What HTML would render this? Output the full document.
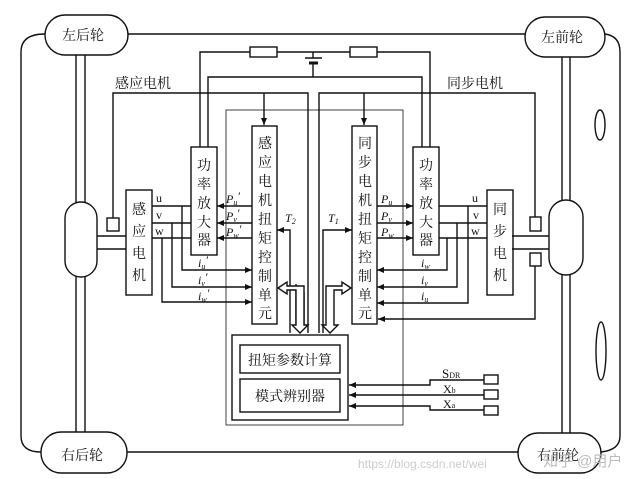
<!DOCTYPE html>
<html><head><meta charset="utf-8"><style>
html,body{margin:0;padding:0;background:#fff;}
svg{display:block;}
text{font-family:"Liberation Serif","Noto Serif CJK SC","Noto Sans CJK SC",serif;fill:#111;}
</style></head><body>
<svg width="640" height="479" viewBox="0 0 640 479" xmlns="http://www.w3.org/2000/svg">
<defs>
<marker id="a" markerWidth="8" markerHeight="8" refX="7" refY="4" orient="auto" markerUnits="userSpaceOnUse"><path d="M0,1 L7,4 L0,7 Z" fill="#111"/></marker>
</defs>
<g stroke="#111" stroke-width="1.4" fill="none">
<!-- outer frame -->
<path d="M128,34 H525"/>
<path d="M45,34 Q21,34 21,52 V436 Q21,452 41,452"/>
<path d="M127,452 H518"/>
<path d="M605,34 Q620,36 620,52 V436 Q620,450 601,452"/>
<!-- axles -->
<line x1="76" y1="55" x2="76" y2="432"/><line x1="85" y1="55" x2="85" y2="432"/>
<line x1="562" y1="57" x2="562" y2="433"/><line x1="570" y1="57" x2="570" y2="433"/>
<rect x="65" y="202" width="32" height="75" rx="16" fill="#fff"/>
<rect x="549" y="200" width="34" height="75" rx="17" fill="#fff"/>
<ellipse cx="600" cy="125" rx="5" ry="15"/>
<ellipse cx="601" cy="351" rx="5" ry="29"/>
<!-- wheels -->
<rect x="45" y="15" width="83" height="40" rx="20" fill="#fff"/>
<rect x="525" y="17" width="80" height="40" rx="20" fill="#fff"/>
<rect x="41" y="432" width="86" height="41" rx="20" fill="#fff"/>
<rect x="518" y="433" width="83" height="40" rx="20" fill="#fff"/>
<!-- shafts -->
<line x1="97" y1="236" x2="126" y2="236"/><line x1="97" y1="249" x2="126" y2="249"/>
<line x1="512" y1="236" x2="549" y2="236"/><line x1="512" y1="249" x2="549" y2="249"/>
<!-- motors -->
<rect x="126" y="190" width="26" height="105"/>
<rect x="487" y="190" width="26" height="105"/>
<rect x="107" y="218" width="12" height="13"/>
<rect x="530" y="217" width="11" height="14"/>
<rect x="530" y="253" width="11" height="13"/>
<!-- sensor lines -->
<path d="M113,218 V93 H308 V333"/>
<path d="M535,217 V93 H319 V333"/>
<path d="M535,266 V319 H378" marker-end="url(#a)"/>
<line x1="264" y1="93" x2="264" y2="125" marker-end="url(#a)"/>
<line x1="364" y1="93" x2="364" y2="125" marker-end="url(#a)"/>
<!-- power -->
<path d="M200,147 V52 H250 M277,52 H350 M377,52 H430 V147"/>
<rect x="250" y="47" width="27" height="10"/>
<rect x="350" y="47" width="27" height="10"/>
<line x1="305" y1="58" x2="322" y2="58"/>
<line x1="309" y1="63" x2="318" y2="63" stroke-width="3"/>
<line x1="313" y1="52" x2="313" y2="58"/>
<path d="M313,63 V77 H208 V147 M313,77 H422 V147"/>
<!-- amps & units -->
<rect x="191" y="147" width="26" height="108" fill="#fff"/>
<rect x="413" y="147" width="26" height="108" fill="#fff"/>
<rect x="252" y="126" width="25" height="198" fill="#fff"/>
<rect x="352" y="126" width="25" height="198" fill="#fff"/>
<!-- thin box -->
<rect x="226" y="110" width="177" height="315" stroke-width="0.8"/>
<!-- left phase lines -->
<line x1="152" y1="206" x2="191" y2="206"/><line x1="152" y1="223" x2="191" y2="223"/><line x1="152" y1="238" x2="191" y2="238"/>
<line x1="252" y1="206" x2="217" y2="206" marker-end="url(#a)"/>
<line x1="252" y1="223" x2="217" y2="223" marker-end="url(#a)"/>
<line x1="252" y1="238" x2="217" y2="238" marker-end="url(#a)"/>
<path d="M182,206 V270 H252" marker-end="url(#a)"/>
<path d="M172,223 V287 H252" marker-end="url(#a)"/>
<path d="M162,238 V302 H252" marker-end="url(#a)"/>
<!-- right phase lines -->
<line x1="439" y1="206" x2="487" y2="206"/><line x1="439" y1="223" x2="487" y2="223"/><line x1="439" y1="238" x2="487" y2="238"/>
<line x1="377" y1="206" x2="413" y2="206" marker-end="url(#a)"/>
<line x1="377" y1="223" x2="413" y2="223" marker-end="url(#a)"/>
<line x1="377" y1="238" x2="413" y2="238" marker-end="url(#a)"/>
<path d="M447,238 V270 H377" marker-end="url(#a)"/>
<path d="M457,223 V287 H377" marker-end="url(#a)"/>
<path d="M468,206 V303 H377" marker-end="url(#a)"/>
<!-- T lines -->
<path d="M290,333 V230 H277" marker-end="url(#a)"/>
<path d="M323,333 V230 H352" marker-end="url(#a)"/>
<!-- hollow arrows -->
<path d="M287,288 L279,288 M296,284 V325 M304,292 V325" />
<path d="M278,288 L287,282 L287,286 H304 V325 L308,325 L300,333 L292,325 L296,325 V290 H287 L287,294 Z" fill="#fff"/>
<path d="M351,288 L342,282 L342,286 H326 V325 L322,325 L330,333 L338,325 L334,325 V290 H342 L342,294 Z" fill="#fff"/>
<!-- bottom box -->
<rect x="232" y="335" width="116" height="85" fill="#fff"/>
<rect x="240" y="345" width="100" height="28"/>
<rect x="240" y="379" width="100" height="33"/>
<!-- signals -->
<rect x="484" y="375" width="14" height="9"/>
<rect x="484" y="390" width="14" height="9"/>
<rect x="484" y="406" width="14" height="9"/>
<path d="M484,380 H430 V385 H349" marker-end="url(#a)"/>
<path d="M484,395 H349" marker-end="url(#a)"/>
<path d="M484,410 H430 V406 H349" marker-end="url(#a)"/>
</g>
<g font-size="14">
<text x="62" y="40">左后轮</text>
<text x="541" y="42">左前轮</text>
<text x="61" y="460">右后轮</text>
<text x="537" y="460">右前轮</text>
<text x="115" y="88">感应电机</text>
<text x="447" y="88">同步电机</text>
</g>
<g font-size="14" text-anchor="middle">
<text x="139" y="214">感</text><text x="139" y="236">应</text><text x="139" y="258">电</text><text x="139" y="280">机</text>
<text x="500" y="214">同</text><text x="500" y="236">步</text><text x="500" y="258">电</text><text x="500" y="280">机</text>
<text x="204" y="170">功</text><text x="204" y="189">率</text><text x="204" y="208">放</text><text x="204" y="227">大</text><text x="204" y="245">器</text>
<text x="426" y="170">功</text><text x="426" y="189">率</text><text x="426" y="208">放</text><text x="426" y="227">大</text><text x="426" y="245">器</text>
<text x="265" y="148">感</text><text x="265" y="167">应</text><text x="265" y="186">电</text><text x="265" y="205">机</text><text x="265" y="224">扭</text><text x="265" y="243">矩</text><text x="265" y="262">控</text><text x="265" y="281">制</text><text x="265" y="300">单</text><text x="265" y="318">元</text>
<text x="365" y="148">同</text><text x="365" y="167">步</text><text x="365" y="186">电</text><text x="365" y="205">机</text><text x="365" y="224">扭</text><text x="365" y="243">矩</text><text x="365" y="262">控</text><text x="365" y="281">制</text><text x="365" y="300">单</text><text x="365" y="318">元</text>
<text x="290" y="365">扭矩参数计算</text>
<text x="290" y="401">模式辨别器</text>
</g>
<g font-size="12">
<text x="156" y="202">u</text><text x="156" y="219">v</text><text x="155" y="235">w</text>
<text x="472" y="202">u</text><text x="473" y="219">v</text><text x="471" y="235">w</text>
<text x="226" y="203" font-style="italic">P<tspan font-size="8" dy="2">u</tspan><tspan dy="-5">′</tspan></text>
<text x="226" y="220" font-style="italic">P<tspan font-size="8" dy="2">v</tspan><tspan dy="-5">′</tspan></text>
<text x="226" y="236" font-style="italic">P<tspan font-size="8" dy="2">w</tspan><tspan dy="-5">′</tspan></text>
<text x="381" y="203" font-style="italic">P<tspan font-size="8" dy="2">u</tspan></text>
<text x="381" y="220" font-style="italic">P<tspan font-size="8" dy="2">v</tspan></text>
<text x="381" y="236" font-style="italic">P<tspan font-size="8" dy="2">w</tspan></text>
<text x="198" y="267" font-style="italic">i<tspan font-size="8" dy="2">u</tspan><tspan dy="-5">′</tspan></text>
<text x="198" y="284" font-style="italic">i<tspan font-size="8" dy="2">v</tspan><tspan dy="-5">′</tspan></text>
<text x="198" y="300" font-style="italic">i<tspan font-size="8" dy="2">w</tspan><tspan dy="-5">′</tspan></text>
<text x="421" y="267" font-style="italic">i<tspan font-size="8" dy="2">w</tspan></text>
<text x="421" y="284" font-style="italic">i<tspan font-size="8" dy="2">v</tspan></text>
<text x="421" y="300" font-style="italic">i<tspan font-size="8" dy="2">u</tspan></text>
<text x="285" y="222" font-style="italic">T<tspan font-size="8" dy="2">2</tspan></text>
<text x="328" y="222" font-style="italic">T<tspan font-size="8" dy="2">1</tspan></text>
<text x="442" y="378" font-size="13">S<tspan font-size="8">DR</tspan></text>
<text x="443" y="393">X<tspan font-size="8">b</tspan></text>
<text x="443" y="408">X<tspan font-size="8">a</tspan></text>
</g>
<text x="358" y="468" font-size="12" style="fill:#ccc;font-family:'Liberation Sans',sans-serif">https://blog.csdn.net/wei</text>
<text x="543" y="466" font-size="15" style="fill:#bbb;font-family:'Liberation Sans','Noto Sans CJK SC',sans-serif">知乎 @用户</text>
</svg>
</body></html>
